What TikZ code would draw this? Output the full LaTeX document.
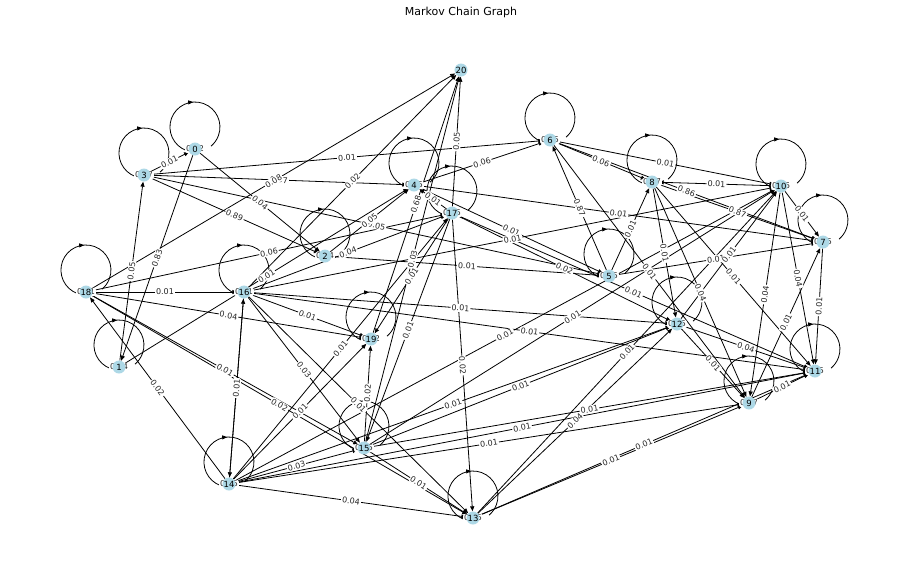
\documentclass[tikz,border=0pt]{standalone}
\usepackage{fontspec}
\setmainfont{DejaVu Sans}
\usepackage{tikz}
\usetikzlibrary{arrows.meta, decorations.markings}
\definecolor{nodeblue}{HTML}{ADD8E6}
% from/to/weight of every transition
\newcommand{\chainedges}{3/0/0.01, 3/6/0.01, 3/4/0.07, 18/20/0.08, 16/20/0.02, 0/2/0.04, 3/2/0.89, 0/1/0.83,
  1/3/0.05, 18/17/0.06, 1/4/0.01, 16/17/0.04, 3/5/0.05, 2/4/0.05, 4/6/0.06, 17/20/0.05, 17/4/0.01,
  19/20/0.68, 15/20/0.03, 17/19/0.01, 2/5/0.01, 17/12/0.02, 4/5/0.01, 16/10/0.01, 5/6/0.87, 4/7/0.01,
  6/8/0.06, 6/10/0.01, 10/8/0.01, 6/7/0.86, 8/7/0.87, 10/7/0.01, 5/8/0.01, 8/12/0.01, 5/7/0.01,
  12/10/0.01, 6/9/0.01, 8/11/0.01, 8/9/0.04, 10/9/0.04, 10/11/0.04, 7/11/0.01, 9/7/0.01, 17/11/0.01,
  12/11/0.04, 12/9/0.01, 9/11/0.01, 13/10/0.01, 15/11/0.01, 13/9/0.01, 13/11/0.01, 13/12/0.04,
  14/11/0.01, 14/9/0.01, 15/12/0.01, 14/12/0.01, 15/10/0.01, 14/10/0.01, 16/11/0.01, 16/12/0.01,
  17/13/0.02, 15/13/0.01, 14/13/0.04, 17/15/0.01, 14/17/0.01, 15/19/0.02, 16/13/0.01, 16/19/0.01,
  18/19/0.04, 18/16/0.01, 18/15/0.01, 18/13/0.02, 16/14/0.01, 16/15/0.03, 14/19/0.01, 14/18/0.02,
  14/15/0.03, 14/16/0.01}
\newcommand{\chainloops}{0/0.02, 1/0.04, 2/0.04, 3/0.07, 4/0.05, 5/0.05, 6/0.05, 7/0.05, 8/0.07, 9/0.07,
  10/0.06, 11/0.05, 12/0.05, 13/0.05, 14/0.05, 15/0.05, 16/0.01, 17/0.05, 18/0.01, 19/0.02}
\tikzset{
  vertexshape/.style={circle, minimum size=13pt, inner sep=0pt},
  vertex/.style={vertexshape, fill=nodeblue, font=\fontsize{8.5}{9}\selectfont},
  edgeline/.style={line width=0.8pt, -{Triangle[length=5pt, width=4pt]}},
  loopline/.style={line width=0.8pt, postaction={decorate}, decoration={markings,
    mark=at position 0.52 with {\arrow{Triangle[length=5pt, width=4pt]}}}},
  weight/.style={fill=white, rounded corners=2pt, inner sep=1pt, text=black!85,
    font=\fontsize{8}{9}\selectfont}
}
\begin{document}
\begin{tikzpicture}[x=1pt, y=1pt]
    \useasboundingbox (0,0) rectangle (907,-574);
    \node[font=\fontsize{11}{13}\selectfont] (title) at (461,-12) {Markov Chain Graph};
    \foreach \n/\px/\py in {0/195/149, 1/119/367, 2/325/256, 3/144/175, 4/414/185, 5/609/276,
        6/550/140, 7/823/242, 8/652/182, 9/749/403, 10/781/186, 11/815/371, 12/677/324,
        13/473/518, 14/229/484, 15/364/448, 16/244/292, 17/452/213, 18/86/292, 19/371/339, 20/461/70}
        \node[vertexshape] (n\n) at (\px,-\py) {};
    % lines first, weights on top
    \foreach \a/\b/\w in \chainedges
        \draw[edgeline] (n\a) -- (n\b);
    \foreach \n/\w in \chainloops
        \draw[loopline] ([shift={(-8.6,-1.5)}]n\n.center) arc[start angle=250, end angle=-50, radius=25];
    \foreach \a/\b/\w in \chainedges
        \path (n\a) -- (n\b) node[weight, midway, sloped] {\w};
    \foreach \n/\w in \chainloops
        \node[weight] at (n\n.center) {\w};
    \foreach \n in {0,...,20}
        \node[vertex] at (n\n.center) {\n};
\end{tikzpicture}
\end{document}
